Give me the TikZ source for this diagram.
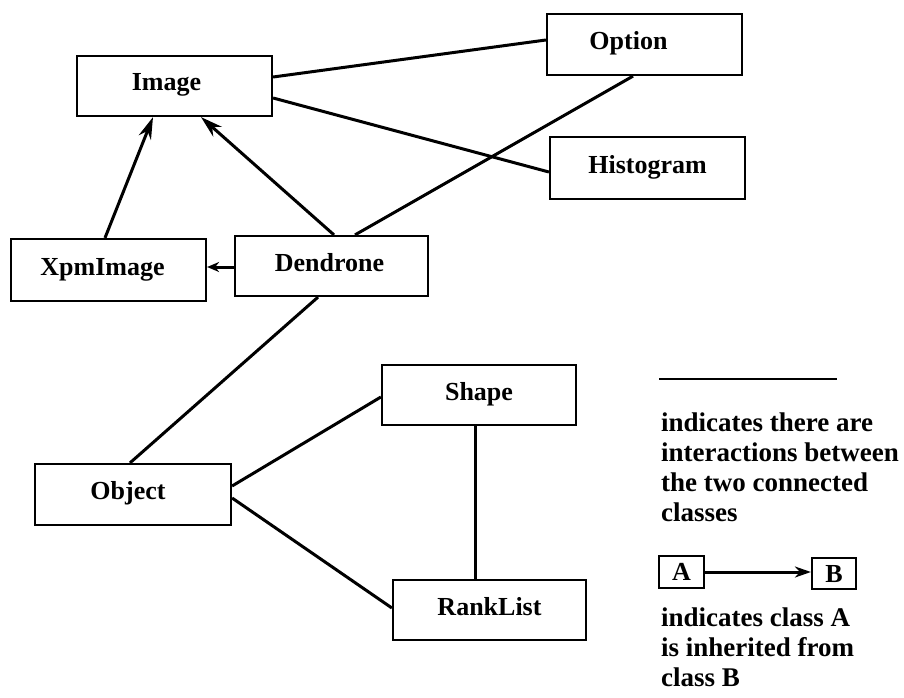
\documentclass[tikz,border=0pt]{standalone}
\usepackage{fontspec}
\setmainfont{Liberation Serif}
\usetikzlibrary{arrows.meta}
\begin{document}
\begin{tikzpicture}[x=1pt,y=-1pt,
  cls/.style={draw, line width=2.2pt, inner sep=0pt, font=\fontsize{26}{30}\selectfont\bfseries, text height=18pt, text depth=8pt},
  link/.style={line width=3pt},
  inh/.style={line width=3pt, -{Stealth[length=22pt,width=13pt]}},
  legtext/.style={font=\fontsize{27}{30}\selectfont\bfseries, align=left, inner sep=0pt, anchor=base west}]
\useasboundingbox (0,0) rectangle (904,698);
\node[cls, minimum width=195pt, minimum height=60pt] (img) at (174.5,86) {Image\hspace*{16pt}};
\node[cls, minimum width=195pt, minimum height=61pt] (opt) at (644.5,44.5) {Option\hspace*{32pt}};
\node[cls, minimum width=195pt, minimum height=62pt] (his) at (647.5,168) {Histogram};
\node[cls, minimum width=195pt, minimum height=62pt] (xpm) at (108.5,270) {XpmImage\hspace*{12pt}};
\node[cls, minimum width=193pt, minimum height=60pt] (den) at (331.5,266) {Dendrone\hspace*{4pt}};
\node[cls, minimum width=196pt, minimum height=61pt] (obj) at (133,494.5) {Object\hspace*{10pt}};
\node[cls, minimum width=194pt, minimum height=60pt] (shp) at (479,395) {Shape};
\node[cls, minimum width=193pt, minimum height=60pt] (rnk) at (489.5,610) {RankList};

\draw[link] ([yshift=9pt]img.east) -- ([yshift=4.5pt]opt.west);
\draw[link] ([yshift=-12pt]img.east) -- ([yshift=-4pt]his.west);
\draw[inh] ([xshift=-3.5pt]xpm.north) -- ([xshift=-21.5pt]img.south);
\draw[inh] ([xshift=2.5pt]den.north) -- ([xshift=26.5pt]img.south);
\draw[link] ([xshift=23.5pt]den.north) -- ([xshift=-11.5pt]opt.south);
\draw[line width=3pt, -{Stealth[length=12pt,width=10pt]}] ([yshift=-1pt]den.west) -- ([yshift=-1pt]den.west -| xpm.east);
\draw[link] ([xshift=-13.5pt]den.south) -- ([xshift=-3pt]obj.north);
\draw[link] ([yshift=8.5pt]obj.east) -- ([yshift=-2pt]shp.west);
\draw[link] ([yshift=-3.5pt]obj.east) -- ([yshift=2pt]rnk.west);
\draw[link] ([xshift=-4pt]shp.south) -- ([xshift=-4pt]shp.south |- rnk.north);

% legend
\coordinate (l1) at (659,379);
\coordinate (l2) at (837,379);
\draw[line width=2.2pt] (l1) -- (l2);
\node[legtext] (t1) at (661,521) {indicates there are\\interactions between\\the two connected\\classes};
\node[cls, minimum width=45pt, minimum height=32pt, text height=17pt, text depth=0pt] (la) at (681.5,572) {A};
\node[cls, minimum width=44pt, minimum height=31pt, text height=17pt, text depth=0pt] (lb) at (834,573.5) {B};
\draw[line width=3pt, -{Stealth[length=16pt,width=11pt]}] (la.east) -- (la.east -| lb.west);
\node[legtext] (t2) at (661,686) {indicates class A\\is inherited from\\class B};
\end{tikzpicture}
\end{document}
